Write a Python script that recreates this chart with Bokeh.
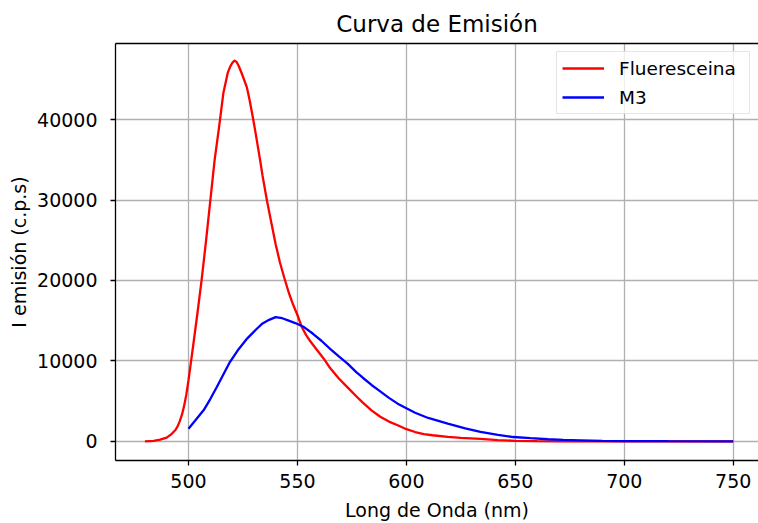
from bokeh.plotting import figure
from bokeh.models import FixedTicker, LinearAxis, Range1d, Legend, LegendItem
from bokeh.embed import file_html
from bokeh.resources import INLINE

# Fluoresceina emission curve
fl_wl = [480, 484, 487, 490, 492, 494, 495, 496, 497, 498, 499, 500, 501, 502,
         504, 506, 508, 510, 512, 514, 516, 518, 519, 520, 521, 522, 523, 524.5,
         526.8, 528, 529.8, 531, 532.9, 534, 536, 538, 540, 542, 544, 546, 548,
         550, 552, 554, 556, 558, 562, 565, 569, 573, 577, 580, 584, 588, 592,
         596, 600, 604, 608, 612, 619, 625, 634, 642, 650, 660, 670, 700, 750]
fl_int = [0, 40, 200, 450, 850, 1400, 1850, 2500, 3300, 4400, 5800, 7600, 9600,
          11600, 15700, 20000, 24800, 29900, 35000, 39000, 43300, 45800, 46500,
          47000, 47330, 47200, 46700, 45700, 44000, 42500, 39880, 38000, 34900,
          33000, 29940, 27200, 24500, 22200, 20300, 18500, 17000, 15700, 14200,
          13200, 12400, 11700, 10300, 9100, 7800, 6700, 5600, 4800, 3850, 3050,
          2450, 2000, 1500, 1150, 900, 750, 560, 420, 300, 150, 60, 15, 0, 0, 0]

# M3 emission curve
m3_wl = [500, 503, 507, 510, 513, 516, 519, 523, 527, 531, 534, 537, 540, 543,
         546, 549, 553, 557, 561, 565, 569, 573, 577, 580, 584, 588, 592, 596,
         600, 604, 610, 619, 627, 634, 642, 649, 657, 665, 672, 680, 690, 700,
         720, 750]
m3_int = [1570, 2550, 3880, 5250, 6750, 8300, 9850, 11450, 12800, 13900, 14650,
          15100, 15440, 15300, 15000, 14700, 14200, 13400, 12500, 11500, 10550,
          9650, 8600, 7900, 7000, 6200, 5400, 4680, 4100, 3550, 2900, 2200,
          1600, 1160, 800, 530, 380, 250, 170, 120, 60, 30, 10, 0]

x_ticks = [500, 550, 600, 650, 700, 750]
y_ticks = [0, 10000, 20000, 30000, 40000]

FONT = "DejaVu Sans"

p = figure(width=758, height=523, output_backend="svg", toolbar_location=None,
           x_range=Range1d(466.5, 761.6), y_range=Range1d(-2390, 49460),
           min_border_left=115, min_border_right=0, min_border_top=43,
           min_border_bottom=62, title="Curva de Emisión")

p.title.align = "center"
p.title.text_font = FONT
p.title.text_font_size = "23px"
p.title.text_font_style = "normal"
p.title.text_color = "#000000"
p.title.standoff = 14

p.outline_line_color = None
p.background_fill_color = "white"
p.border_fill_color = "white"

r1 = p.line(fl_wl, fl_int, line_color="red", line_width=2.3)
r2 = p.line(m3_wl, m3_int, line_color="blue", line_width=2.3)

for ax in (p.xaxis[0], p.yaxis[0]):
    ax.axis_line_color = "black"
    ax.axis_line_width = 1.3
    ax.major_tick_line_color = "black"
    ax.major_tick_line_width = 1.3
    ax.major_tick_out = 5
    ax.major_tick_in = 0
    ax.minor_tick_line_color = None
    ax.major_label_text_font = FONT
    ax.major_label_text_font_size = "19px"
    ax.major_label_text_color = "#000000"
    ax.axis_label_text_font = FONT
    ax.axis_label_text_font_size = "19px"
    ax.axis_label_text_font_style = "normal"
    ax.axis_label_text_color = "#000000"

p.xaxis[0].ticker = FixedTicker(ticks=x_ticks)
p.yaxis[0].ticker = FixedTicker(ticks=y_ticks)
p.xaxis[0].axis_label = "Long de Onda (nm)"
p.yaxis[0].axis_label = "I emisión (c.p.s)"
p.xaxis[0].major_label_standoff = 8
p.xaxis[0].axis_label_standoff = 8
p.yaxis[0].major_label_standoff = 13
p.yaxis[0].axis_label_standoff = 4

top = LinearAxis(ticker=FixedTicker(ticks=[]), major_label_text_font_size="0px",
                 axis_line_color="black", axis_line_width=1.3,
                 major_tick_line_color=None, minor_tick_line_color=None)
p.add_layout(top, "above")

p.xgrid.ticker = FixedTicker(ticks=x_ticks)
p.ygrid.ticker = FixedTicker(ticks=y_ticks)
for g in (p.xgrid[0], p.ygrid[0]):
    g.grid_line_color = "#b0b0b0"
    g.grid_line_width = 1.3

legend = Legend(items=[LegendItem(label="Flueresceina", renderers=[r1]),
                       LegendItem(label="M3", renderers=[r2])],
                location="top_right", margin=8, padding=5, spacing=7,
                glyph_width=42, glyph_height=20, label_height=22,
                label_width=125, label_standoff=15, label_text_font=FONT,
                label_text_font_size="18.5px", label_text_color="#000000",
                border_line_color="#cccccc", border_line_width=1,
                background_fill_color="white", background_fill_alpha=0.8)
p.add_layout(legend, "center")

open("out.html", "w").write(file_html(p, INLINE))
